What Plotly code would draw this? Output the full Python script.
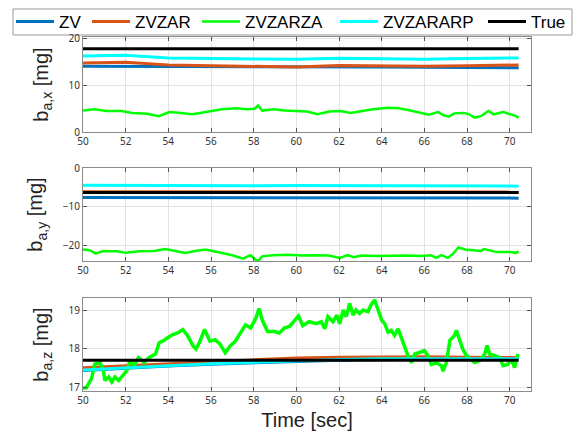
import plotly.graph_objects as go

# ---- data ------------------------------------------------------------
# coarse time grid for the slowly varying estimates
t_coarse = [50, 52, 54, 56, 58, 60, 62, 64, 66, 68, 70, 70.42]

# x-axis accelerometer bias [mg]
bx_true = 17.9
bx_zv = [14.1, 14.1, 14.05, 14.0, 14.0, 14.0, 13.95, 13.95, 13.9, 13.85, 13.8, 13.8]
bx_zvzar = [14.8, 15.0, 14.4, 14.2, 14.1, 13.95, 14.3, 14.2, 14.1, 14.2, 14.35, 14.4]
bx_zvzararp = [16.3, 16.5, 15.9, 15.8, 15.7, 15.6, 15.85, 15.8, 15.6, 15.8, 15.9, 15.9]
tx_zvzarza = [50.0, 50.55, 51.1, 51.8, 52.3, 53.0, 53.55, 54.05, 54.6, 55.1, 55.5, 56.0,
              56.5, 57.2, 57.7, 58.05, 58.2, 58.4, 58.95, 59.45, 60.0, 60.5, 61.0, 61.55,
              62.05, 62.55, 63.1, 63.6, 64.3, 64.8, 65.35, 65.85, 66.2, 66.65, 66.9, 67.15,
              67.4, 67.85, 68.1, 68.35, 68.65, 69.0, 69.25, 69.7, 70.05, 70.3, 70.42]
bx_zvzarza = [4.6, 4.9, 4.5, 4.5, 4.1, 3.9, 3.4, 4.3, 4.1, 3.8, 4.1, 4.5,
              4.9, 5.1, 4.9, 5.0, 5.7, 4.6, 4.9, 4.6, 4.5, 4.4, 3.8, 4.4,
              4.5, 4.1, 4.5, 4.9, 5.2, 5.1, 4.6, 4.1, 3.7, 4.3, 3.6, 3.3,
              4.0, 4.1, 3.8, 3.1, 3.4, 4.5, 3.8, 4.3, 3.8, 3.4, 3.1]

# y-axis accelerometer bias [mg]
by_true = -6.3
by_zv = [-7.6, -7.6, -7.6, -7.6, -7.6, -7.6, -7.6, -7.65, -7.7, -7.7, -7.75, -7.8]
by_zvzar = [-6.1, -6.1, -6.1, -6.1, -6.1, -6.1, -6.1, -6.1, -6.15, -6.15, -6.2, -6.2]
by_zvzararp = [-4.45, -4.5, -4.5, -4.55, -4.55, -4.5, -4.5, -4.5, -4.55, -4.6, -4.65, -4.7]
ty_zvzarza = [50.0, 50.3, 50.6, 50.9, 51.6, 52.0, 52.65, 53.35, 53.85, 54.35, 54.8, 55.25,
              55.75, 56.3, 56.65, 57.0, 57.5, 57.85, 58.1, 58.2, 58.4, 58.9, 59.6, 60.3,
              61.0, 61.5, 62.05, 62.4, 62.7, 63.05, 63.75, 64.45, 65.15, 65.85, 66.3, 66.55,
              66.8, 67.1, 67.35, 67.6, 67.95, 68.3, 68.65, 68.8, 69.05, 69.4, 70.0, 70.3, 70.42]
by_zvzarza = [-21.05, -21.2, -22.1, -21.5, -21.5, -21.9, -21.5, -21.4, -20.9, -21.4, -21.9, -21.4,
              -21.05, -21.7, -22.1, -22.5, -23.4, -22.5, -23.7, -24.0, -22.8, -22.5, -22.4, -22.6,
              -22.5, -22.6, -23.2, -22.5, -23.0, -22.6, -22.7, -22.6, -22.6, -22.7, -22.5, -23.2,
              -22.5, -23.2, -22.1, -20.5, -21.1, -21.2, -21.4, -20.9, -21.2, -21.7, -21.7, -21.9, -21.5]

# z-axis accelerometer bias [mg]
bz_true = 17.71
bz_zv = [17.45, 17.51, 17.56, 17.61, 17.65, 17.68, 17.71, 17.73, 17.74, 17.74, 17.74, 17.74]
bz_zvzar = [17.52, 17.57, 17.63, 17.68, 17.73, 17.77, 17.79, 17.8, 17.8, 17.79, 17.78, 17.78]
bz_zvzararp = [17.46, 17.52, 17.57, 17.62, 17.66, 17.7, 17.73, 17.75, 17.75, 17.75, 17.75, 17.75]
tz_zvzarza = [50.0, 50.15, 50.4, 50.55, 50.8, 50.95, 51.03, 51.2, 51.35, 51.5, 51.67, 51.9,
              52.06, 52.2, 52.4, 52.6, 52.86, 53.1, 53.4, 53.57, 53.73, 53.97, 54.2, 54.44,
              54.68, 54.92, 55.16, 55.3, 55.48, 55.7, 55.95, 56.2, 56.43, 56.67, 56.9, 57.14,
              57.38, 57.62, 57.86, 58.1, 58.25, 58.4, 58.65, 58.97, 59.2, 59.44, 59.68, 59.92,
              60.1, 60.3, 60.6, 60.94, 61.17, 61.33, 61.48, 61.72, 61.9, 62.03, 62.2, 62.34,
              62.5, 62.66, 62.8, 62.97, 63.13, 63.36, 63.5, 63.67, 63.83, 64.0, 64.14, 64.3,
              64.45, 64.6, 64.77, 64.92, 65.08, 65.23, 65.4, 65.55, 65.78, 66.0, 66.17, 66.33,
              66.56, 66.8, 66.88, 67.03, 67.2, 67.42, 67.5, 67.66, 67.8, 67.97, 68.2, 68.36,
              68.6, 68.83, 68.94, 69.06, 69.3, 69.53, 69.69, 69.92, 70.08, 70.23, 70.39]
bz_zvzarza = [17.0, 17.0, 17.24, 17.61, 17.65, 17.45, 17.19, 17.28, 17.15, 17.28, 17.19, 17.36,
              17.45, 17.7, 17.57, 17.78, 17.65, 17.78, 17.87, 18.16, 18.2, 18.29, 18.37, 18.41,
              18.5, 18.33, 18.08, 18.0, 18.2, 18.5, 18.2, 18.24, 18.12, 17.9, 18.08, 18.2,
              18.41, 18.62, 18.54, 18.79, 19.04, 18.75, 18.45, 18.45, 18.41, 18.54, 18.58, 18.75,
              18.85, 18.6, 18.7, 18.65, 18.7, 18.52, 18.83, 18.7, 18.87, 18.65, 19.0, 18.83,
              19.17, 18.87, 19.0, 18.91, 19.0, 18.96, 19.13, 19.26, 19.0, 18.74, 18.65, 18.43,
              18.48, 18.35, 18.52, 18.3, 18.04, 17.83, 17.65, 17.87, 17.91, 17.96, 17.83, 17.6,
              17.65, 17.57, 17.43, 17.65, 18.22, 18.35, 18.48, 18.22, 18.0, 17.83, 17.74, 17.65,
              17.7, 17.87, 18.09, 17.87, 17.83, 17.78, 17.57, 17.61, 17.74, 17.52, 17.87]

series_names = ["ZV", "ZVZAR", "ZVZARZA", "ZVZARARP", "True"]
series_colors = ["#0072BD", "#D95319", "#00FF00", "#00FFFF", "#000000"]

x_ticks = list(range(50, 71, 2))
x_range = [50, 71]
y_ranges = [[0, 20.4], [-24, 0], [16.92, 19.31]]
y_ticks = [[0, 10, 20], [-20, -10, 0], [17, 18, 19]]
y_titles = ["b<sub>a,x</sub> [mg]", "b<sub>a,y</sub> [mg]", "b<sub>a,z</sub> [mg]"]

# ---- page geometry (px) ----------------------------------------------
W, H = 577, 434
M_L, M_R, M_T, M_B = 83, 46, 37, 43
PW, PH = W - M_L - M_R, H - M_T - M_B


def px_x(px):
    return (px - M_L) / PW


def px_y(py):
    return (H - M_B - py) / PH


# one legend box per entry so the row spans the whole top strip
legend_left_px = [11, 87, 197, 335, 483]
legend_ids = ["legend", "legend2", "legend3", "legend4", "legend5"]

# ---- figure ----------------------------------------------------------
fig = go.Figure()

t_end = [t_coarse[0], t_coarse[-1]]
panels = [
    (bx_zv, bx_zvzar, tx_zvzarza, bx_zvzarza, bx_zvzararp, bx_true, 2.5),
    (by_zv, by_zvzar, ty_zvzarza, by_zvzarza, by_zvzararp, by_true, 2.5),
    (bz_zv, bz_zvzar, tz_zvzarza, bz_zvzarza, bz_zvzararp, bz_true, 3.5),
]

for i, (zv, zvzar, tg, zvzarza, zvzararp, truth, gw) in enumerate(panels):
    ax = "" if i == 0 else str(i + 1)
    xa, ya = "x" + ax, "y" + ax
    show = i == 0
    xs = [t_coarse, t_coarse, tg, t_coarse, t_end]
    ys = [zv, zvzar, zvzarza, zvzararp, [truth, truth]]
    widths = [3, 3, gw, 3, 3]
    for k in range(5):
        fig.add_trace(go.Scatter(x=xs[k], y=ys[k], mode="lines", name=series_names[k],
                                 line=dict(color=series_colors[k], width=widths[k]),
                                 xaxis=xa, yaxis=ya, showlegend=show,
                                 legend=legend_ids[k]))

domains = [[px_y(132), 1.0], [px_y(261), px_y(168)], [0.0, px_y(298)]]
tick_font = dict(family="Noto Sans", size=10, color="#333333")
axis_common = dict(showline=True, linecolor="#8c8c8c", linewidth=1, mirror="ticks",
                   ticks="inside", ticklen=4, tickcolor="#555555",
                   showgrid=True, gridcolor="#e3e3e3", gridwidth=1,
                   zeroline=False, tickfont=tick_font)

title_font = dict(family="Liberation Sans", size=20, color="#222222")
for i in range(3):
    ax = "" if i == 0 else str(i + 1)
    xaxis = dict(axis_common, domain=[0, 1], range=x_range, tickvals=x_ticks,
                 anchor="y" + ax)
    if i == 2:
        xaxis["title"] = dict(text="Time [sec]", font=title_font, standoff=6)
    fig.layout["xaxis" + ax] = xaxis
    fig.layout["yaxis" + ax] = dict(
        axis_common, domain=domains[i], range=y_ranges[i], tickvals=y_ticks[i],
        anchor="x" + ax,
        title=dict(text=y_titles[i], font=title_font, standoff=14),
    )

legend_font = dict(family="Liberation Sans", size=17, color="#000000")
for lid, left in zip(legend_ids, legend_left_px):
    fig.layout[lid] = dict(orientation="h", x=px_x(left), xanchor="left",
                           y=px_y(22), yanchor="middle",
                           borderwidth=0, bgcolor="rgba(0,0,0,0)",
                           font=legend_font, itemwidth=38)

# legend frame
fig.add_shape(type="rect", xref="paper", yref="paper",
              x0=px_x(13), x1=px_x(572), y0=px_y(35), y1=px_y(9),
              line=dict(color="#999999", width=1), fillcolor="white", layer="below")

fig.update_layout(
    width=W, height=H,
    margin=dict(l=M_L, r=M_R, t=M_T, b=M_B, autoexpand=False),
    paper_bgcolor="white", plot_bgcolor="white",
)

fig.write_html("out.html")
